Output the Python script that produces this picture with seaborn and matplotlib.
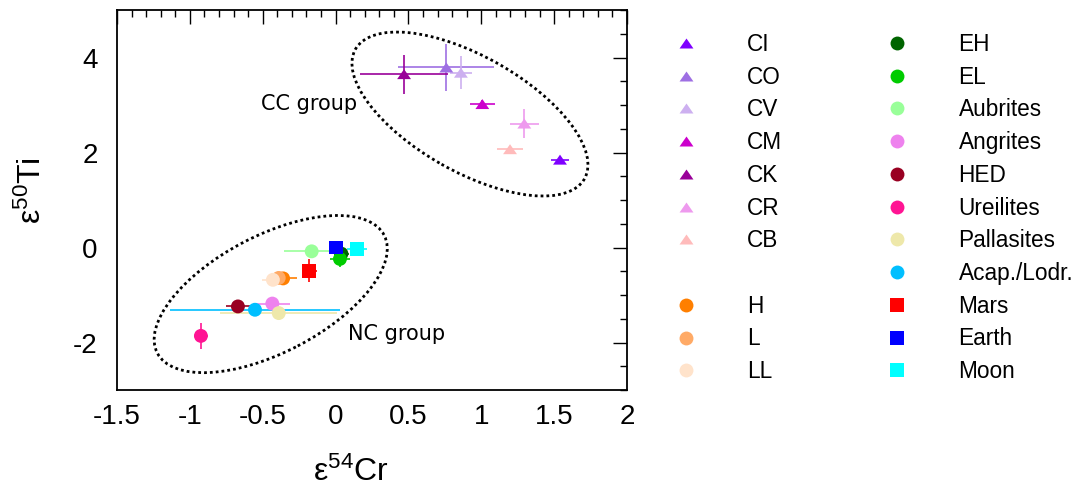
import matplotlib
matplotlib.use("Agg")
import matplotlib.pyplot as plt
from matplotlib.lines import Line2D
from matplotlib.patches import Ellipse
from matplotlib.transforms import ScaledTranslation
from matplotlib.ticker import MultipleLocator
import seaborn as sns
import pandas as pd

# --- data: epsilon-54Cr vs epsilon-50Ti for meteorite groups and planetary bodies ---
names = ["CI", "CO", "CV", "CM", "CK", "CR", "CB",
         "H", "L", "LL",
         "EH", "EL", "Aubrites", "Angrites", "HED", "Ureilites",
         "Pallasites", "Acap./Lodr.", "Mars", "Earth", "Moon"]
cr54 = [1.54, 0.76, 0.86, 1.007, 0.47, 1.295, 1.197,
        -0.36, -0.39, -0.43,
        0.04, 0.03, -0.164, -0.434, -0.67, -0.924,
        -0.39, -0.553, -0.18, 0.0, 0.145]
ti50 = [1.85, 3.79, 3.68, 3.02, 3.65, 2.61, 2.07,
        -0.65, -0.64, -0.68,
        -0.13, -0.24, -0.08, -1.18, -1.24, -1.86,
        -1.38, -1.31, -0.49, 0.0, -0.03]
cr54_err = [0.06, 0.33, 0.075, 0.085, 0.30, 0.10, 0.09,
            0.095, 0.08, 0.075,
            0.05, 0.07, 0.19, 0.12, 0.085, 0.05,
            0.40, 0.58, 0.05, 0.0, 0.07]
ti50_err = [0.08, 0.50, 0.35, 0.08, 0.41, 0.30, 0.05,
            0.05, 0.05, 0.05,
            0.10, 0.17, 0.05, 0.05, 0.05, 0.27,
            0.08, 0.05, 0.24, 0.0, 0.05]
colors = ["#7F00FF", "#9E6FE3", "#CDB0F0", "#CC00CC", "#990099", "#EE9AEE", "#FFBBBB",
          "#FF7F00", "#FFAA66", "#FFE3CB",
          "#006400", "#00CC00", "#99FF99", "#EE82EE", "#990022", "#FF1493",
          "#EEE8AA", "#00BFFF", "#FF0000", "#0000FF", "#00FFFF"]
shapes = ["tri"] * 7 + ["circle"] * 11 + ["square"] * 3

# equilateral-looking triangle (wider than tall)
TRI = [(-1.0, -0.72), (1.0, -0.72), (0.0, 0.72), (-1.0, -0.72)]
marker_of = {"tri": TRI, "circle": "o", "square": "s"}

df = pd.DataFrame({"name": names, "cr": cr54, "ti": ti50,
                   "cr_err": cr54_err, "ti_err": ti50_err})

sns.set_theme(style="white")
plt.rcParams["font.family"] = ["Liberation Sans", "DejaVu Sans"]
plt.rcParams["mathtext.fontset"] = "custom"
plt.rcParams["mathtext.rm"] = "Liberation Sans"
plt.rcParams["mathtext.it"] = "Liberation Sans:italic"
for key in ["text.color", "axes.labelcolor", "xtick.color", "ytick.color"]:
    plt.rcParams[key] = "black"

fig = plt.figure(figsize=(10.8, 4.9), dpi=100)
ax = fig.add_axes([0.1083, 0.204, 0.4723, 0.7756])

# error bars beneath the symbols
for i, n in enumerate(names):
    xe = cr54_err[i] if cr54_err[i] > 0 else None
    ye = ti50_err[i] if ti50_err[i] > 0 else None
    if xe is None and ye is None:
        continue
    ax.errorbar(cr54[i], ti50[i], xerr=xe, yerr=ye, fmt="none",
                ecolor=colors[i], elinewidth=1.4, alpha=0.85, capsize=0, zorder=2)

palette = dict(zip(names, colors))
markers = {n: marker_of[s] for n, s in zip(names, shapes)}
sns.scatterplot(data=df, x="cr", y="ti", hue="name", style="name",
                palette=palette, markers=markers, hue_order=names, style_order=names,
                s=100, linewidth=0, edgecolor="none", legend=False, ax=ax, zorder=3)

# group outlines
for cx, cy, w, h, ang in [(0.922, 2.81, 2.632, 1.154, -29.5),
                          (-0.445, -0.98, 2.556, 1.170, 27.5)]:
    tr = fig.dpi_scale_trans + ScaledTranslation(cx, cy, ax.transData)
    ax.add_patch(Ellipse((0, 0), w, h, angle=ang, transform=tr, fill=False,
                         edgecolor="black", linewidth=2.0, linestyle=(0, (1, 1.1)),
                         zorder=1))

ax.text(-0.515, 3.02, "CC group", fontsize=15, family="DejaVu Sans",
        ha="left", va="center", color="black")
ax.text(0.087, -1.81, "NC group", fontsize=15, family="DejaVu Sans",
        ha="left", va="center", color="black")

ax.set_xlim(-1.5, 2.0)
ax.set_ylim(-3, 5)
ax.xaxis.set_major_locator(MultipleLocator(0.5))
ax.xaxis.set_minor_locator(MultipleLocator(0.1))
ax.yaxis.set_major_locator(MultipleLocator(2))
ax.yaxis.set_minor_locator(MultipleLocator(0.5))
ax.xaxis.set_major_formatter(lambda v, p: f"{v:g}")
ax.yaxis.set_major_formatter(lambda v, p: f"{v:g}")
ax.tick_params(which="both", direction="in", top=True, right=True, colors="black",
               labelsize=20)
ax.tick_params(which="major", length=10, width=1.0)
ax.tick_params(axis="x", which="major", pad=10)
ax.tick_params(axis="y", which="major", pad=14)
ax.tick_params(which="minor", length=5, width=1.0)
for sp in ax.spines.values():
    sp.set_visible(True)
    sp.set_color("black")
    sp.set_linewidth(1.3)

ax.set_xlabel(r"$\mathrm{ε^{54}Cr}$", fontsize=23, labelpad=19)
ax.set_ylabel(r"$\mathrm{ε^{50}Ti}$", fontsize=23, labelpad=18)
ax.xaxis.label.set_x(0.459)
ax.yaxis.label.set_y(0.526)

# legend: carbonaceous chondrites, gap, ordinary chondrites / other bodies
handles, labels = [], []
for i, n in enumerate(names):
    if n == "H":
        handles.append(Line2D([], [], linestyle="None", marker="None"))
        labels.append("")
    handles.append(Line2D([], [], linestyle="None", marker=marker_of[shapes[i]],
                          markersize=10, markerfacecolor=colors[i],
                          markeredgewidth=0, color=colors[i]))
    labels.append(n)

leg = fig.legend(handles, labels, ncol=2, loc="upper left", bbox_to_anchor=(0.614, 0.933),
                 frameon=False, fontsize=16.3, borderpad=0, borderaxespad=0,
                 handlelength=2.0, handletextpad=1.7, columnspacing=4.1, labelspacing=0.43)
for t in leg.get_texts():
    t.set_color("black")

fig.savefig("out.png", dpi=100)
